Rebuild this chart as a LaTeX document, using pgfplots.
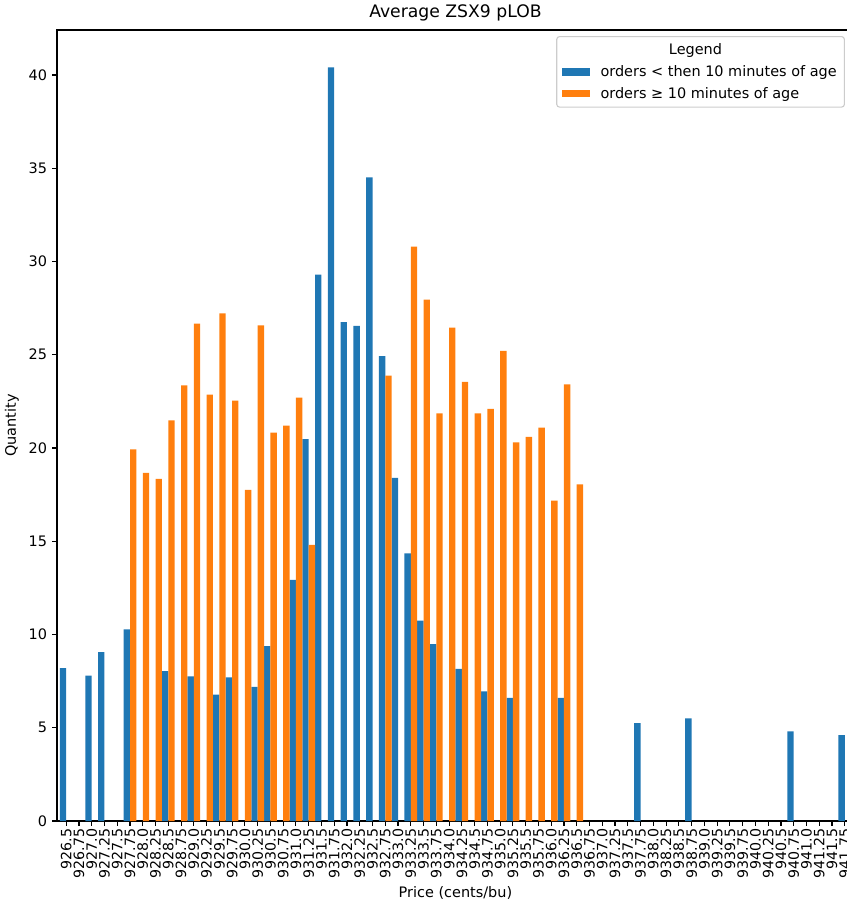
\documentclass[border=0pt]{standalone}
\usepackage{pgfplots}
\pgfplotsset{compat=1.18}
\usepackage{fontspec}
\setmainfont{DejaVu Sans}
\definecolor{tabblue}{HTML}{1F77B4}
\definecolor{taborange}{HTML}{FF7F0E}
\definecolor{legedge}{HTML}{CCCCCC}

\pgfplotstableread{
idx val
0 8.19
2 7.79
3 9.06
5 10.28
8 8.04
10 7.76
12 6.78
13 7.70
15 7.19
16 9.37
18 12.93
19 20.48
20 29.30
21 40.41
22 26.75
23 26.55
24 34.51
25 24.93
26 18.40
27 14.35
28 10.74
29 9.48
31 8.15
33 6.95
35 6.60
39 6.60
45 5.25
49 5.50
57 4.80
61 4.60
}\younger

\pgfplotstableread{
idx val
5 19.93
6 18.66
7 18.34
8 21.48
9 23.36
10 26.67
11 22.86
12 27.22
13 22.54
14 17.75
15 26.58
16 20.82
17 21.20
18 22.70
19 14.80
25 23.88
27 30.79
28 27.95
29 21.85
30 26.45
31 23.55
32 21.85
33 22.10
34 25.20
35 20.30
36 20.60
37 21.09
38 17.18
39 23.41
40 18.05
}\older

\begin{document}
\fontsize{10.4}{12.5}\selectfont
\begin{tikzpicture}
\begin{axis}[
  scale only axis,
  width=573.8pt, height=569.5pt,
  xmin=-0.72, xmax=61.72,
  ymin=0, ymax=42.41,
  tick align=outside,
  tick pos=left,
  major tick length=3.5pt,
  every tick/.style={black, line width=0.8pt},
  axis line style={black, line width=0.8pt},
  xtick={0,...,61},
  xticklabels={926.5,926.75,927.0,927.25,927.5,927.75,928.0,928.25,928.5,928.75,929.0,929.25,929.5,929.75,930.0,930.25,930.5,930.75,931.0,931.25,931.5,931.75,932.0,932.25,932.5,932.75,933.0,933.25,933.5,933.75,934.0,934.25,934.5,934.75,935.0,935.25,935.5,935.75,936.0,936.25,936.5,936.75,937.0,937.25,937.5,937.75,938.0,938.25,938.5,938.75,939.0,939.25,939.5,939.75,940.0,940.25,940.5,940.75,941.0,941.25,941.5,941.75},
  xticklabel style={rotate=90, anchor=east, font=\fontsize{10.2}{12}\selectfont, inner sep=2pt},
  ytick={0,5,...,40},
  yticklabel style={font=\fontsize{10.4}{12.5}\selectfont},
  /pgf/number format/assume math mode=true,
  title={Average ZSX9 pLOB},
  title style={font=\fontsize{12.4}{14.5}\selectfont, yshift=-3.5pt},
  xlabel={Price (cents/bu)},
  ylabel={Quantity},
  label style={font=\fontsize{10.4}{12.5}\selectfont},
  ybar=0pt,
  bar width=0.5,
  legend image code/.code={\fill[#1, sharp corners] (0pt,-2.7pt) rectangle (20.5pt,2.7pt);},
  legend cell align=left,
  legend style={at={(0.9887,0.9924)}, anchor=north east, draw=legedge, line width=0.8pt,
    rounded corners=2pt, fill=white, font=\fontsize{10.4}{12.5}\selectfont,
    row sep=2.2pt, column sep=5.5pt, inner xsep=3.5pt, inner ysep=3pt},
]
\addlegendimage{empty legend}
\addlegendentry{\makebox[136.8pt][c]{Legend}}
\addplot[fill=tabblue, draw=none, bar shift=-0.25] table[x=idx, y=val] {\younger};
\addlegendentry{orders < then 10 minutes of age}
\addplot[fill=taborange, draw=none, bar shift=0.25] table[x=idx, y=val] {\older};
\addlegendentry{orders ≥ 10 minutes of age}
\end{axis}
\pgfresetboundingbox
\path[use as bounding box] (-41.04pt,-63.36pt) rectangle (568.08pt,591.12pt);
\end{tikzpicture}
\end{document}
